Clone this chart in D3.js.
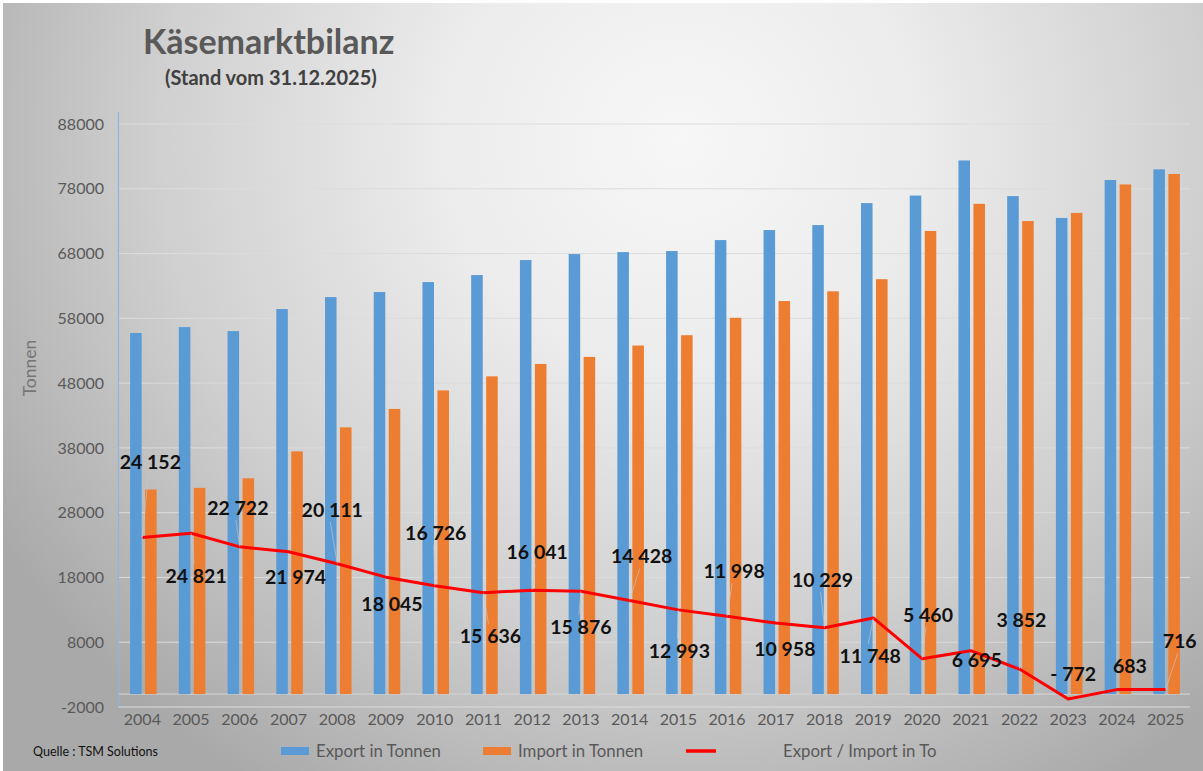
<!DOCTYPE html>
<html>
<head>
<meta charset="utf-8">
<script src="https://cdn.jsdelivr.net/npm/d3@7"></script>
<style>
  html, body { margin: 0; padding: 0; background: #ffffff; }
  svg { display: block; font-family: "Lato", "Open Sans", sans-serif; }
</style>
</head>
<body>
<svg id="chart" width="1203" height="771"></svg>
<script>
// ---- data ----
const years = ["2004","2005","2006","2007","2008","2009","2010","2011","2012","2013","2014",
               "2015","2016","2017","2018","2019","2020","2021","2022","2023","2024","2025"];
const exportTonnen = [55730, 56650, 56030, 59430, 61280, 62060, 63600, 64680, 67000, 67920, 68230,
                      68390, 70080, 71630, 72400, 75790, 76950, 82370, 76870, 73500, 79350, 81000];
const importTonnen = [31578, 31829, 33308, 37456, 41169, 44015, 46874, 49044, 50959, 52044, 53802,
                      55397, 58082, 60672, 62171, 64042, 71490, 75675, 73018, 74272, 78667, 80284];
const saldo = [24152, 24821, 22722, 21974, 20111, 18045, 16726, 15636, 16041, 15876, 14428,
               12993, 11998, 10958, 10229, 11748, 5460, 6695, 3852, -772, 683, 716];
const saldoLabels = ["24 152","24 821","22 722","21 974","20 111","18 045","16 726","15 636","16 041","15 876","14 428",
                     "12 993","11 998","10 958","10 229","11 748","5 460","6 695","3 852","- 772","683","716"];
const yTicks = [-2000, 8000, 18000, 28000, 38000, 48000, 58000, 68000, 78000, 88000];
const legendLabels = ["Export in Tonnen", "Import in Tonnen", "Export / Import in To"];
const titleText = "Käsemarktbilanz";
const subtitleText = "(Stand vom 31.12.2025)";
const sourceText = "Quelle : TSM Solutions";
const yAxisTitle = "Tonnen";

// ---- layout (label offsets in px relative to the line point) ----
const labelDx = [8, 5, -2, 7, -5, 6, 1, 7, 5, 0, 12, 1, 7, 9, -2, -3, 6, 6, 2, 5, 13, 14];
const labelDy = [-75, 43, -39, 25, -54, 27, -53, 43, -38, 36, -44, 41, -45, 26, -48, 38, -44, 9, -49, -25, -23, -48];

const colors = { exp: "#5B9BD5", imp: "#ED7D31", line: "#FF0000" };

const svg = d3.select("#chart");
const W = 1203, H = 771;

// background
const defs = svg.append("defs");
const grad = defs.append("radialGradient")
  .attr("id", "bg").attr("gradientUnits", "userSpaceOnUse")
  .attr("cx", 680).attr("cy", 140).attr("r", 800)
  .attr("gradientTransform", "translate(680,140) scale(1,0.95) translate(-680,-140)");
grad.append("stop").attr("offset", 0).attr("stop-color", "#f7f7f7");
grad.append("stop").attr("offset", 0.3).attr("stop-color", "#ececec");
grad.append("stop").attr("offset", 0.65).attr("stop-color", "#d0d0d0");
grad.append("stop").attr("offset", 1).attr("stop-color", "#a9a9a9");
svg.append("rect").attr("x", 3).attr("y", 3).attr("width", W - 3).attr("height", H - 3)
  .attr("fill", "url(#bg)");

// scales
const x = d3.scaleBand().domain(years).range([118, 1190]).padding(0);
const x1 = d3.scaleBand().domain(["exp", "imp"]).range([0, x.bandwidth()])
  .paddingInner(0.23).paddingOuter(0.74);
const y = d3.scaleLinear().domain([-2000, 88000]).range([707, 124]);

// gridlines
svg.append("g").selectAll("line").data(yTicks).join("line")
  .attr("x1", 118).attr("x2", 1190)
  .attr("y1", d => y(d)).attr("y2", d => y(d))
  .attr("stroke", "#dcdcdc").attr("stroke-width", 1);
// zero line
svg.append("line").attr("x1", 118).attr("x2", 1190)
  .attr("y1", y(0)).attr("y2", y(0))
  .attr("stroke", "#d6d6d6").attr("stroke-width", 1);

// y axis
const yAxis = d3.axisLeft(y).tickValues(yTicks).tickFormat(d => String(d)).tickSize(0).tickPadding(0);
const gy = svg.append("g").attr("transform", "translate(104,0)").call(yAxis);
gy.select(".domain").remove();
gy.selectAll("text").attr("font-size", 16).attr("fill", "#595959")
  .attr("font-family", "Lato, sans-serif");
svg.append("line").attr("x1", 118.5).attr("x2", 118.5).attr("y1", 112).attr("y2", 707)
  .attr("stroke", "#8fb4dd").attr("stroke-width", 1.2);

// x axis
const xAxis = d3.axisBottom(x).tickSize(0).tickPadding(0);
const gx = svg.append("g").attr("transform", "translate(0,710)").call(xAxis);
gx.select(".domain").remove();
gx.selectAll("text").attr("font-size", 16).attr("fill", "#595959")
  .attr("dy", "0.95em").attr("font-family", "Lato, sans-serif");

// bars
const bars = svg.append("g");
bars.selectAll("rect.exp").data(years).join("rect").attr("class", "exp")
  .attr("x", (d) => x(d) + x1("exp") + 1)
  .attr("width", x1.bandwidth())
  .attr("y", (d, i) => y(exportTonnen[i]))
  .attr("height", (d, i) => y(0) - y(exportTonnen[i]))
  .attr("fill", colors.exp);
bars.selectAll("rect.imp").data(years).join("rect").attr("class", "imp")
  .attr("x", (d) => x(d) + x1("imp") + 1)
  .attr("width", x1.bandwidth())
  .attr("y", (d, i) => y(importTonnen[i]))
  .attr("height", (d, i) => y(0) - y(importTonnen[i]))
  .attr("fill", colors.imp);

// saldo line
const cx = d => x(d) + x.bandwidth() / 2;
const line = d3.line().x((d, i) => cx(years[i])).y(d => y(d));
svg.append("path").datum(saldo).attr("d", line)
  .attr("fill", "none").attr("stroke", colors.line).attr("stroke-width", 3)
  .attr("stroke-linejoin", "round");

// leader lines + labels
const lab = svg.append("g");
saldo.forEach((v, i) => {
  const px = cx(years[i]), py = y(v);
  const lx = px + labelDx[i], ly = py + labelDy[i];
  const dist = Math.abs(labelDy[i]);
  if (dist > 30) {
    const edge = labelDy[i] < 0 ? ly + 12 : ly - 12;
    lab.append("line").attr("x1", lx - 2).attr("y1", edge).attr("x2", px).attr("y2", py)
      .attr("stroke", "#c8c8c8").attr("stroke-width", 0.8).attr("opacity", 0.8);
  }
});
lab.selectAll("text").data(saldoLabels).join("text")
  .attr("x", (d, i) => cx(years[i]) + labelDx[i])
  .attr("y", (d, i) => y(saldo[i]) + labelDy[i])
  .attr("dy", "0.35em").attr("text-anchor", "middle")
  .attr("font-size", 19.5).attr("font-weight", "bold").attr("fill", "#111")
  .text(d => d);

// titles
svg.append("text").attr("x", 143).attr("y", 54).attr("font-size", 34).attr("font-weight", "bold")
  .attr("fill", "#595959").text(titleText);
svg.append("text").attr("x", 165).attr("y", 85).attr("font-size", 20).attr("font-weight", "bold")
  .attr("fill", "#404040").text(subtitleText);

svg.append("text").attr("transform", "translate(36,368) rotate(-90)")
  .attr("text-anchor", "middle").attr("font-size", 17.5).attr("fill", "#767676").text(yAxisTitle);

// source
svg.append("text").attr("x", 33).attr("y", 756).attr("font-size", 12.5).attr("fill", "#111")
  .text(sourceText);

// legend
const lg = svg.append("g");
lg.append("rect").attr("x", 281).attr("y", 747).attr("width", 28).attr("height", 8).attr("fill", colors.exp);
lg.append("text").attr("x", 316).attr("y", 751).attr("dy", "0.35em").attr("font-size", 16.8).attr("fill", "#595959").text(legendLabels[0]);
lg.append("rect").attr("x", 483).attr("y", 747).attr("width", 28).attr("height", 8).attr("fill", colors.imp);
lg.append("text").attr("x", 518).attr("y", 751).attr("dy", "0.35em").attr("font-size", 16.8).attr("fill", "#595959").text(legendLabels[1]);
lg.append("line").attr("x1", 686).attr("x2", 716).attr("y1", 751).attr("y2", 751).attr("stroke", colors.line).attr("stroke-width", 3.5);
lg.append("text").attr("x", 783).attr("y", 751).attr("dy", "0.35em").attr("font-size", 16.8).attr("fill", "#595959").text(legendLabels[2]);
</script>
</body>
</html>
